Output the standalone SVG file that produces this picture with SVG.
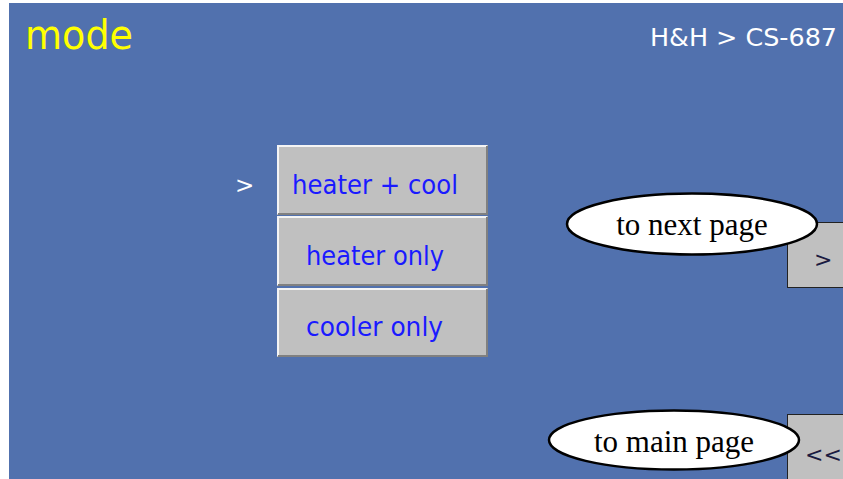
<svg xmlns="http://www.w3.org/2000/svg" width="843" height="479" viewBox="0 0 843 479">
<style>
.ui{font-family:"DejaVu Sans","Liberation Sans",sans-serif}
.btn{font-family:"DejaVu Sans","Liberation Sans",sans-serif;font-size:27px;fill:#1a1aff}
.call{fill:#fff;stroke:#000;stroke-width:2.5}
.ct{font-family:"Liberation Serif","Times New Roman",serif;font-size:31px;fill:#000;text-anchor:middle}
.face{fill:#c0c0c0}
.hi{stroke:#f4f4f4;stroke-width:2;fill:none}
.lo{stroke:#808080;stroke-width:2;fill:none}
</style>
<rect x="0" y="0" width="843" height="479" fill="#fff"/>
<rect x="9" y="3" width="834" height="476" fill="#5171ae"/>
<g id="title">
<text class="ui" x="25" y="49" font-size="40" fill="#ffff00" textLength="108" lengthAdjust="spacingAndGlyphs">mode</text>
</g>
<g id="breadcrumb">
<text class="ui" x="650" y="46" font-size="25" fill="#ffffff" textLength="187" lengthAdjust="spacingAndGlyphs">H&amp;H &gt; CS-687</text>
</g>
<g id="selector">
<text class="ui" x="235" y="193" font-size="23" fill="#ffffff">&gt;</text>
</g>
<g id="btn-heater-cool">
<rect class="face" x="277" y="145" width="211" height="70"/>
<path class="hi" d="M278 214V146H487"/>
<path class="lo" d="M278 214H487V146"/>
<text class="btn" x="292" y="194" textLength="166" lengthAdjust="spacingAndGlyphs">heater + cool</text>
</g>
<g id="btn-heater-only">
<rect class="face" x="277" y="216" width="211" height="70"/>
<path class="hi" d="M278 285V217H487"/>
<path class="lo" d="M278 285H487V217"/>
<text class="btn" x="306" y="265" textLength="138" lengthAdjust="spacingAndGlyphs">heater only</text>
</g>
<g id="btn-cooler-only">
<rect class="face" x="277" y="288" width="211" height="69"/>
<path class="hi" d="M278 356V289H487"/>
<path class="lo" d="M278 356H487V289"/>
<text class="btn" x="306" y="336" textLength="137" lengthAdjust="spacingAndGlyphs">cooler only</text>
</g>
<g id="btn-next">
<rect x="787.5" y="222.5" width="60" height="65" fill="#c0c0c0" stroke="#222" stroke-width="1"/>
<text class="ui" x="814" y="267" font-size="22" fill="#1a1a40">&gt;</text>
</g>
<g id="btn-main">
<rect x="787.5" y="414.5" width="60" height="70" fill="#c0c0c0" stroke="#222" stroke-width="1"/>
<text class="ui" x="805" y="462" font-size="22" fill="#1a1a40">&lt;&lt;</text>
</g>
<g id="callout-next">
<ellipse class="call" cx="692" cy="224" rx="125" ry="30.5"/>
<text class="ct" x="692" y="235">to next page</text>
</g>
<g id="callout-main">
<ellipse class="call" cx="674" cy="440" rx="125" ry="29.5"/>
<text class="ct" x="674" y="452">to main page</text>
</g>
<g id="connectors"></g>
</svg>
